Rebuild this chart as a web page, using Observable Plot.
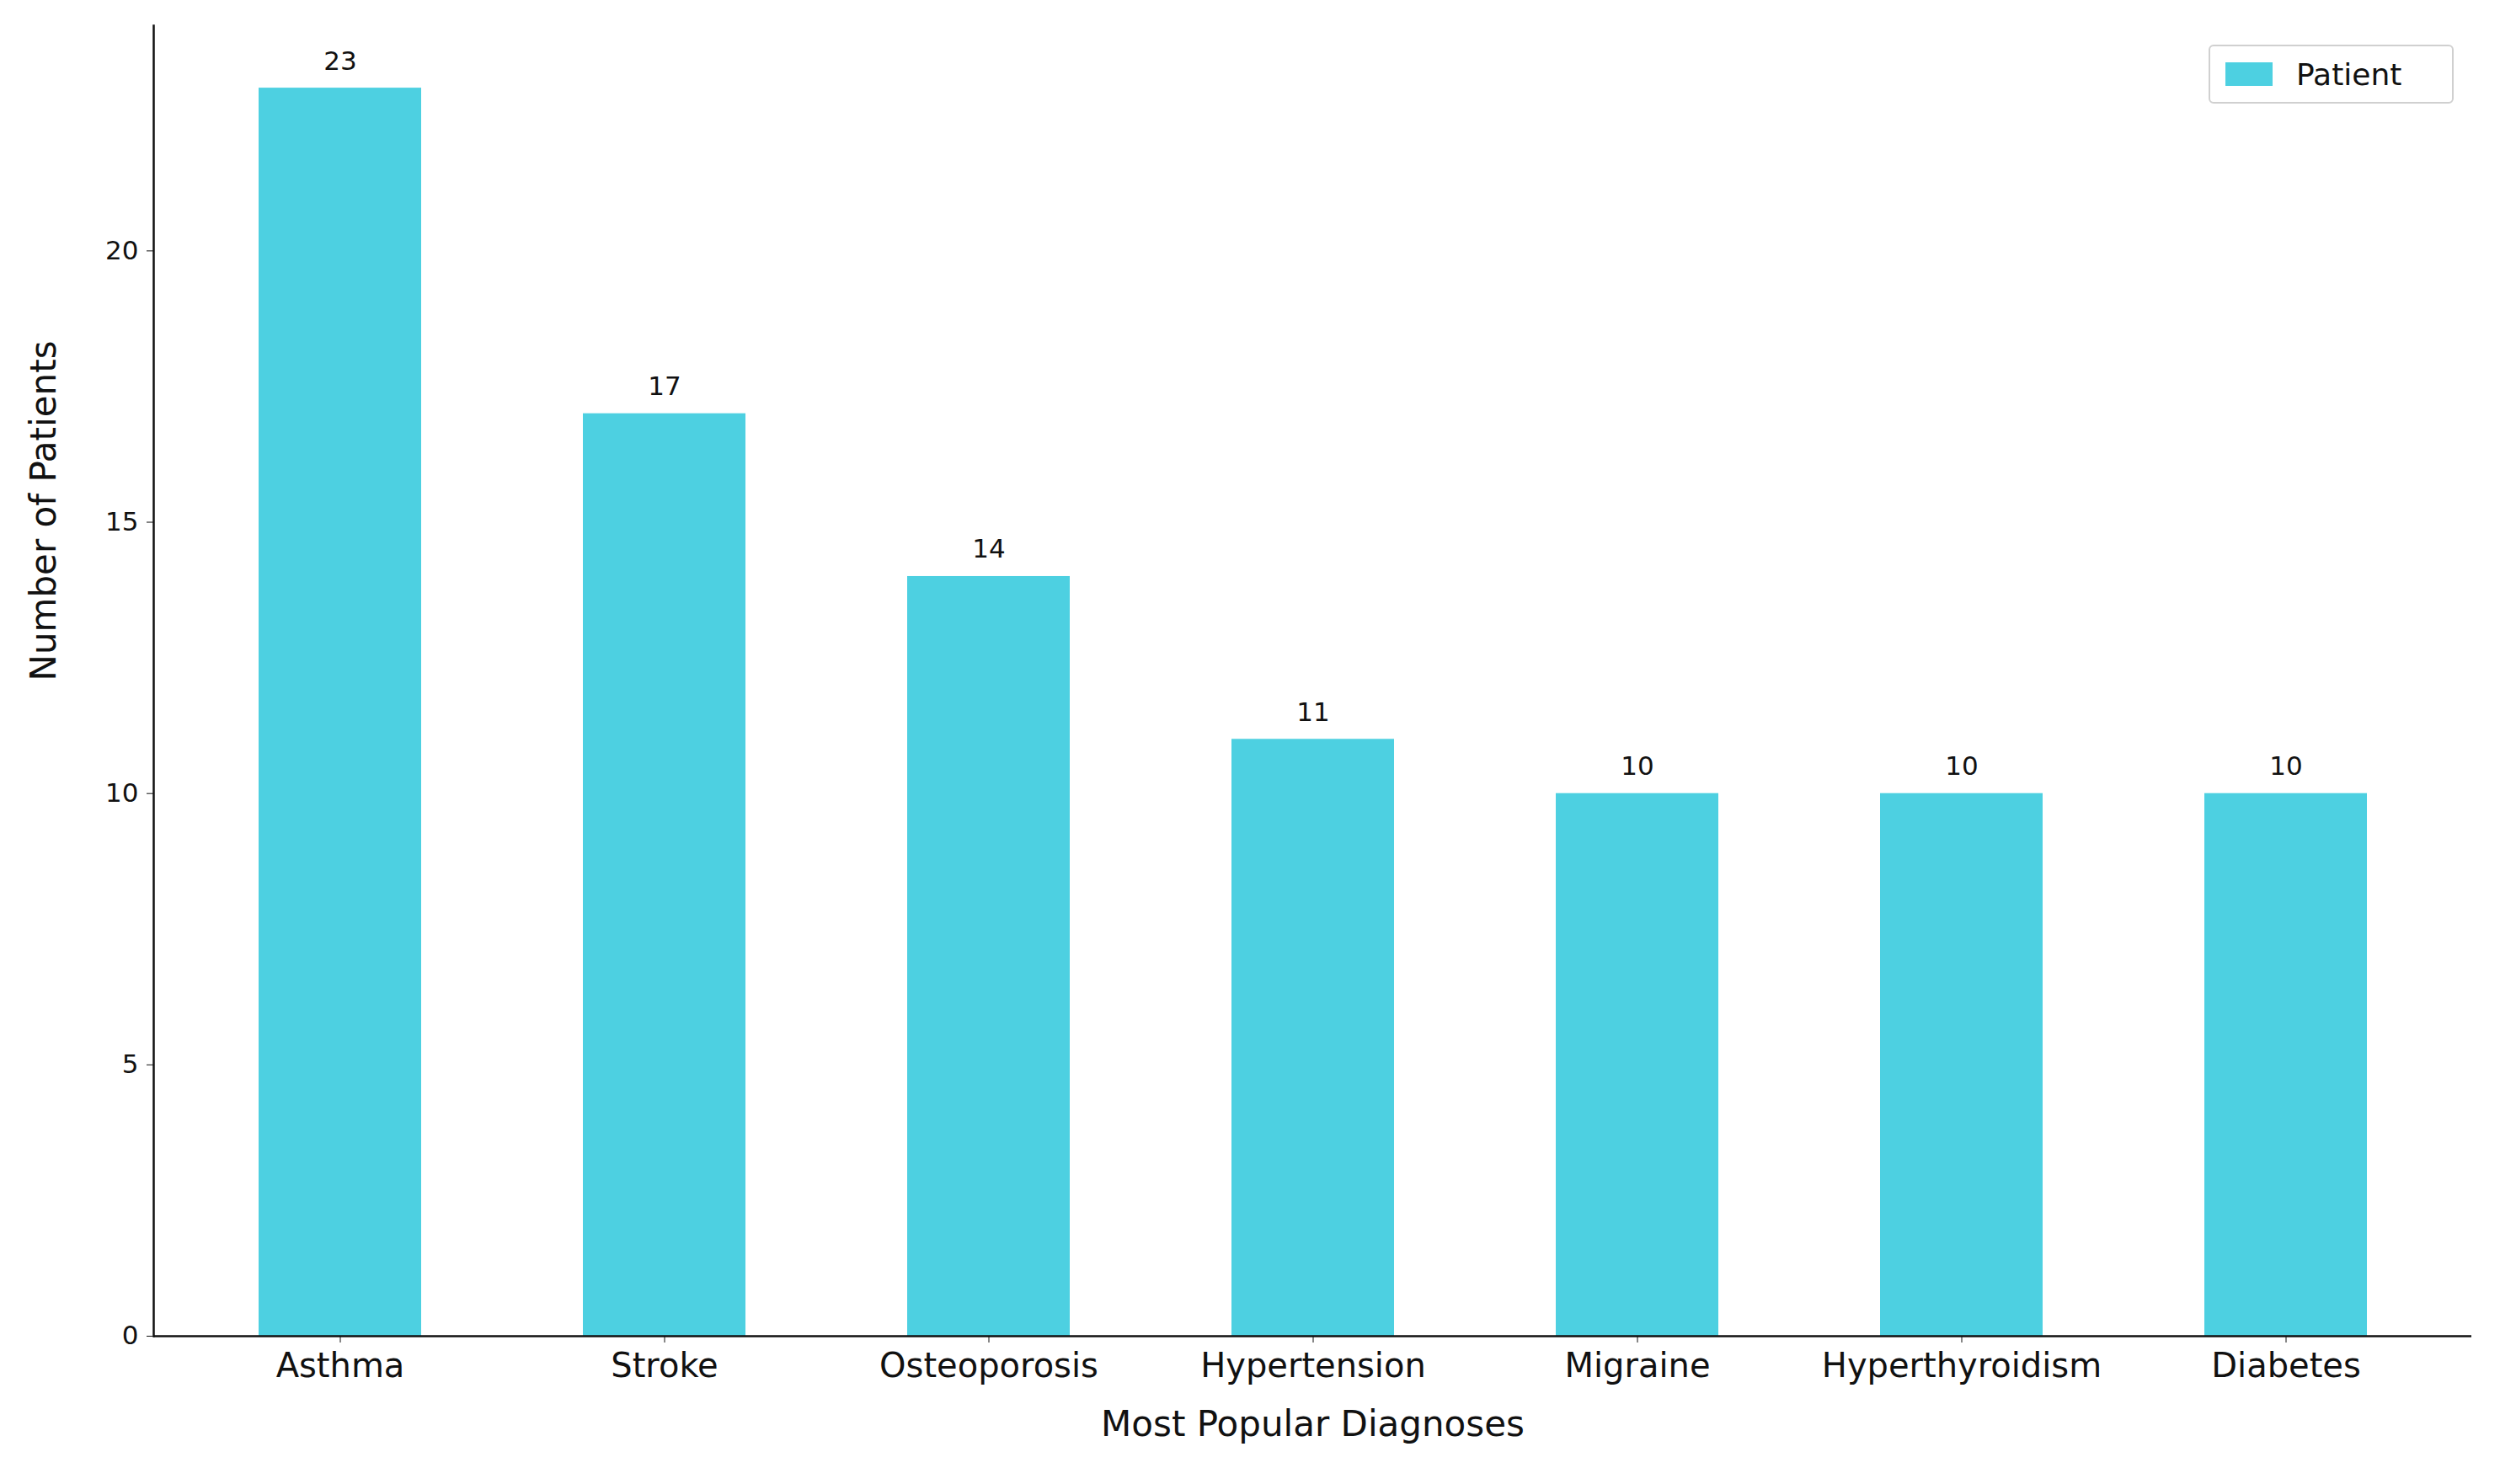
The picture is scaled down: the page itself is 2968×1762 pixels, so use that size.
<!DOCTYPE html>
<html>
<head>
<meta charset="utf-8">
<script src="https://cdn.jsdelivr.net/npm/d3@7"></script>
<script src="https://cdn.jsdelivr.net/npm/@observablehq/plot@0.6"></script>
<style>
  body { margin: 0; background: white; font-family: "DejaVu Sans", sans-serif; }
  #wrap { position: relative; width: 2968px; height: 1762px; }
  #legend { position: absolute; left: 2622px; top: 53px; width: 291px; height: 70px;
    border: 2px solid #d0d0d0; border-radius: 6px; background: white; box-sizing: border-box;
    display: flex; align-items: center; font-size: 36px; color: #111; }
  #legend .sw { width: 56px; height: 28px; background: #4dd0e1; margin: 0 28px 0 18px; }
</style>
</head>
<body>
<div id="wrap"><div id="legend"><div class="sw"></div>Patient</div></div>
<script>
const diagnoses = ["Asthma", "Stroke", "Osteoporosis", "Hypertension", "Migraine", "Hyperthyroidism", "Diabetes"];
const patients = [23, 17, 14, 11, 10, 10, 10];
const yTicks = [0, 5, 10, 15, 20];

const data = diagnoses.map((d, i) => ({diagnosis: d, count: patients[i]}));

const chart = Plot.plot({
  width: 2968,
  height: 1762,
  marginLeft: 182,
  marginRight: 34,
  marginTop: 30,
  marginBottom: 176,
  style: {fontFamily: "DejaVu Sans, sans-serif", color: "#111", background: "white"},
  x: {domain: diagnoses, paddingInner: 0.5, paddingOuter: 0.32},
  y: {domain: [0, 24.15]},
  marks: [
    Plot.barY(data, {x: "diagnosis", y: "count", fill: "#4dd0e1"}),
    Plot.text(data, {x: "diagnosis", y: "count", text: d => String(d.count), dy: -32, fontSize: 31, fill: "#111"}),
    Plot.axisY({ticks: yTicks, tickSize: 8, tickPadding: 10, fontSize: 31, label: null}),
    Plot.axisX({tickSize: 8, tickPadding: 12, fontSize: 40, label: null}),
    Plot.text(["Number of Patients"], {frameAnchor: "left", dx: -130, rotate: -90, fontSize: 42, fill: "#111"}),
    Plot.text(["Most Popular Diagnoses"], {frameAnchor: "bottom", dy: 118, fontSize: 42, fill: "#111"}),
    Plot.ruleY([0], {stroke: "#111", strokeWidth: 2.5}),
    Plot.frame({anchor: "left", stroke: "#111", strokeWidth: 2.5})
  ]
});
document.getElementById("wrap").prepend(chart);
</script>
</body>
</html>
